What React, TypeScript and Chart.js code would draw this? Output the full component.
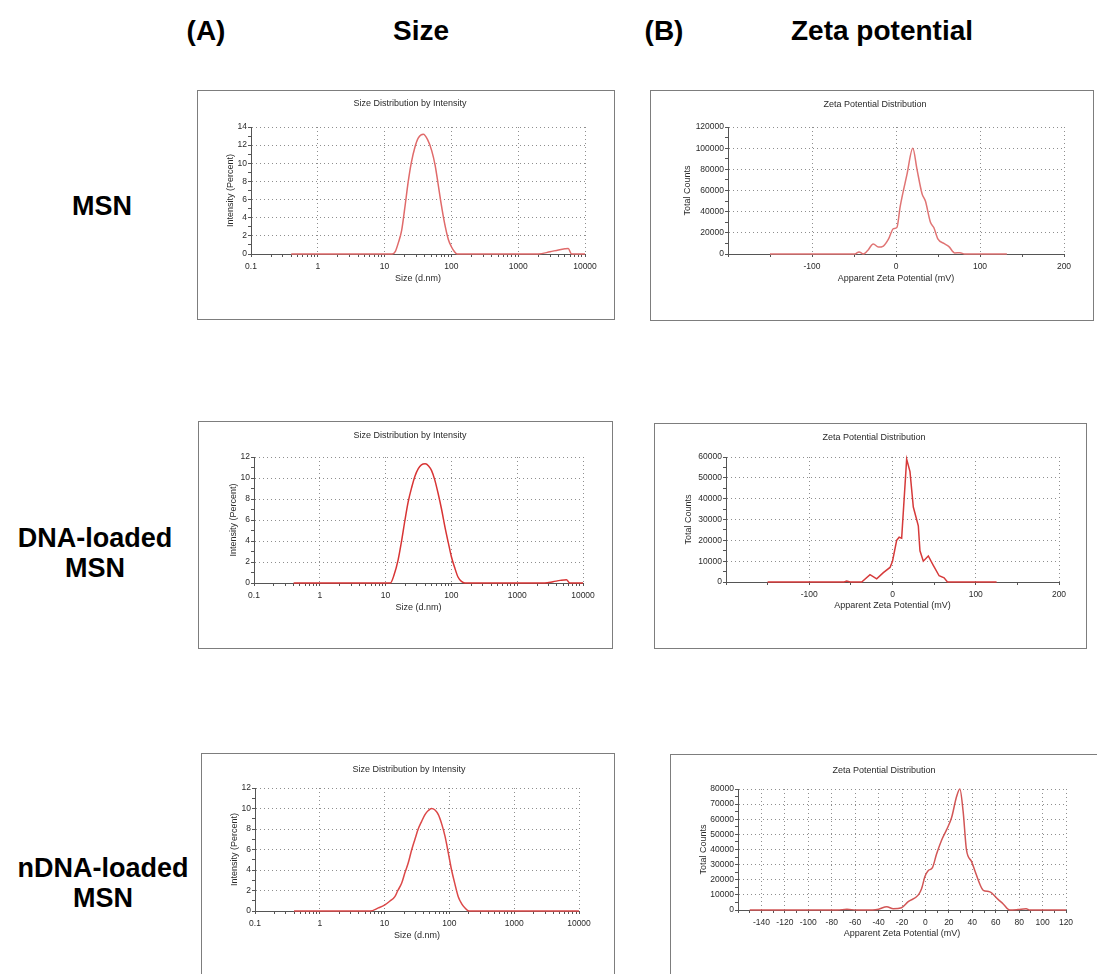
import React, { useEffect, useRef } from 'react';
import { Chart, registerables } from 'chart.js';
Chart.register(...registerables);

const FONT = '"Liberation Sans", Arial, Helvetica, sans-serif';

// ---------- Size distribution data (x: size in d.nm, y: intensity %) ----------
const msnSizeX = [0.4, 13, 14.5, 16, 18, 20, 22.6, 25, 28.5, 32, 38, 44, 50.7, 57, 63, 70, 79, 90, 100, 110, 122, 2000, 3000, 4000, 5000, 5600, 6300, 10000];
const msnSizeY = [0, 0, 0.3, 1.2, 2.6, 5, 8, 10, 11.8, 12.8, 13.2, 12.6, 11.4, 9.8, 7.8, 5.6, 3.4, 1.6, 0.8, 0.3, 0, 0, 0.25, 0.45, 0.58, 0.62, 0, 0];

const dnaSizeX = [0.4, 11.8, 13.5, 15.5, 17.5, 19.7, 22, 24.9, 28, 31.4, 35, 40, 45, 50, 56, 63, 71, 80, 90, 100, 113, 126, 142, 160, 2630, 3500, 4500, 5600, 6300, 10000];
const dnaSizeY = [0, 0, 0.8, 2.2, 4, 6, 7.7, 9.1, 10.2, 10.9, 11.25, 11.35, 11.15, 10.7, 9.8, 8.5, 7, 5.3, 3.8, 2.5, 1.4, 0.57, 0.15, 0, 0, 0.12, 0.25, 0.32, 0, 0];

const ndnaSizeX = [0.4, 6, 8, 10.1, 12, 14.4, 16, 18.3, 20.5, 23.2, 26, 29.4, 33, 37.3, 42, 47.3, 53, 60, 67.5, 76, 85.5, 96, 108, 122, 137, 155, 174, 200, 10000];
const ndnaSizeY = [0, 0, 0.3, 0.6, 0.95, 1.4, 2, 2.7, 3.7, 4.7, 5.9, 7.0, 8, 8.75, 9.4, 9.8, 10, 9.85, 9.4, 8.5, 7.3, 5.7, 4.0, 2.6, 1.4, 0.7, 0.3, 0, 0];

// ---------- Zeta potential data (x: mV, y: total counts) ----------
const msnZetaX = [-150, -55, -49, -44, -39, -34, -27, -21, -15, -9, -3, 1, 5, 13, 20, 25, 31, 35, 41, 45, 50, 57, 63, 70, 76, 82, 132];
const msnZetaY = [0, 0, 0, 2000, 0, 3000, 9500, 6500, 7500, 14000, 24000, 25000, 45000, 75000, 100000, 80000, 57000, 50000, 30000, 25000, 14000, 10000, 7000, 1000, 1200, 0, 0];

const dnaZetaX = [-150, -58, -55, -51, -37, -27, -19, -11, -3, 0, 5, 8, 11, 17, 21, 25, 31, 33, 37, 43, 49, 56, 62, 66, 125];
const dnaZetaY = [0, 0, 500, 0, 0, 3500, 1500, 4500, 7000, 10000, 20000, 21500, 21000, 59000, 53000, 36000, 27000, 15000, 10000, 12500, 8000, 3000, 2000, 0, 0];

const ndnaZetaX = [-150, -75, -67, -59, -45, -40, -33, -27.5, -20.4, -14.7, -6, -3.3, -0.5, 2.3, 6, 9.5, 13.7, 18, 22.3, 26.6, 29.4, 32.2, 35, 39.4, 42.2, 46.5, 49.4, 55, 62, 66.4, 72, 79, 86, 89, 120];
const ndnaZetaY = [0, 0, 500, 0, 0, 500, 2200, 800, 1500, 5500, 10000, 14000, 22000, 26000, 28000, 37000, 46000, 53000, 61000, 75000, 80000, 65000, 40000, 32000, 26000, 17000, 13000, 12000, 7000, 4000, 0, 300, 800, 0, 0];

// ---------- Tick values and labels ----------
const sizeMajorTicks = [0.1, 1, 10, 100, 1000, 10000];
const sizeMinorFactors = [2, 3, 4, 5, 6, 7, 8, 9];
const sizeAllTicks = sizeMajorTicks.flatMap((d, i) =>
  i < sizeMajorTicks.length - 1 ? [d, ...sizeMinorFactors.map((k) => k * d)] : [d]
);

const sizeY14Ticks = [0, 1, 2, 3, 4, 5, 6, 7, 8, 9, 10, 11, 12, 13, 14];
const sizeY14Labels = [0, 2, 4, 6, 8, 10, 12, 14];
const sizeY12Ticks = [0, 1, 2, 3, 4, 5, 6, 7, 8, 9, 10, 11, 12];
const sizeY12Labels = [0, 2, 4, 6, 8, 10, 12];

const zetaWideTicks = [-200, -150, -100, -50, 0, 50, 100, 150, 200];
const zetaWideLabels = [-100, 0, 100, 200];
const zetaNarrowTicks = [-160, -150, -140, -130, -120, -110, -100, -90, -80, -70, -60, -50, -40, -30, -20, -10, 0, 10, 20, 30, 40, 50, 60, 70, 80, 90, 100, 110, 120];
const zetaNarrowLabels = [-140, -120, -100, -80, -60, -40, -20, 0, 20, 40, 60, 80, 100, 120];

const count120Ticks = [0, 10000, 20000, 30000, 40000, 50000, 60000, 70000, 80000, 90000, 100000, 110000, 120000];
const count120Labels = [0, 20000, 40000, 60000, 80000, 100000, 120000];
const count60Ticks = [0, 5000, 10000, 15000, 20000, 25000, 30000, 35000, 40000, 45000, 50000, 55000, 60000];
const count60Labels = [0, 10000, 20000, 30000, 40000, 50000, 60000];
const count80Ticks = [0, 5000, 10000, 15000, 20000, 25000, 30000, 35000, 40000, 45000, 50000, 55000, 60000, 65000, 70000, 75000, 80000];
const count80Labels = [0, 10000, 20000, 30000, 40000, 50000, 60000, 70000, 80000];

type Panel = {
  box: { x: number; y: number; w: number; h: number };
  plot: { l: number; t: number; r: number; b: number };
  yAxisW: number;
  xAxisH: number;
  title: string;
  titleAt: [number, number];
  xType: 'linear' | 'logarithmic';
  xMin: number; xMax: number; xTicks: number[]; xLabels: number[];
  yMin: number; yMax: number; yTicks: number[]; yLabels: number[];
  xTitle: string; yTitle: string;
  xs: number[]; ys: number[];
  color: string;
  monotone: boolean;
};

const SIZE_TITLE = 'Size Distribution by Intensity';
const ZETA_TITLE = 'Zeta Potential Distribution';

const panels: Panel[] = [
  {
    box: { x: 197, y: 90, w: 418, h: 230 }, plot: { l: 251, t: 127, r: 585, b: 254 },
    yAxisW: 26, xAxisH: 30, title: SIZE_TITLE, titleAt: [410, 103],
    xType: 'logarithmic', xMin: 0.1, xMax: 10000, xTicks: sizeAllTicks, xLabels: sizeMajorTicks,
    yMin: 0, yMax: 14, yTicks: sizeY14Ticks, yLabels: sizeY14Labels,
    xTitle: 'Size (d.nm)', yTitle: 'Intensity (Percent)', xs: msnSizeX, ys: msnSizeY,
    color: '#e06a6a', monotone: true,
  },
  {
    box: { x: 650, y: 90, w: 444, h: 231 }, plot: { l: 728, t: 127, r: 1064, b: 254 },
    yAxisW: 46, xAxisH: 30, title: ZETA_TITLE, titleAt: [875, 104],
    xType: 'linear', xMin: -200, xMax: 200, xTicks: zetaWideTicks, xLabels: zetaWideLabels,
    yMin: 0, yMax: 120000, yTicks: count120Ticks, yLabels: count120Labels,
    xTitle: 'Apparent Zeta Potential (mV)', yTitle: 'Total Counts', xs: msnZetaX, ys: msnZetaY,
    color: '#e07474', monotone: true,
  },
  {
    box: { x: 198, y: 421, w: 415, h: 228 }, plot: { l: 254, t: 457, r: 583, b: 583 },
    yAxisW: 26, xAxisH: 29.5, title: SIZE_TITLE, titleAt: [410, 435],
    xType: 'logarithmic', xMin: 0.1, xMax: 10000, xTicks: sizeAllTicks, xLabels: sizeMajorTicks,
    yMin: 0, yMax: 12, yTicks: sizeY12Ticks, yLabels: sizeY12Labels,
    xTitle: 'Size (d.nm)', yTitle: 'Intensity (Percent)', xs: dnaSizeX, ys: dnaSizeY,
    color: '#d83434', monotone: true,
  },
  {
    box: { x: 654, y: 423, w: 433, h: 226 }, plot: { l: 726, t: 457, r: 1059, b: 582 },
    yAxisW: 42.4, xAxisH: 29.4, title: ZETA_TITLE, titleAt: [874, 437],
    xType: 'linear', xMin: -200, xMax: 200, xTicks: zetaWideTicks, xLabels: zetaWideLabels,
    yMin: 0, yMax: 60000, yTicks: count60Ticks, yLabels: count60Labels,
    xTitle: 'Apparent Zeta Potential (mV)', yTitle: 'Total Counts', xs: dnaZetaX, ys: dnaZetaY,
    color: '#d63a3a', monotone: false,
  },
  {
    box: { x: 201, y: 753, w: 414, h: 230 }, plot: { l: 255, t: 788, r: 579, b: 911 },
    yAxisW: 25.4, xAxisH: 30.4, title: SIZE_TITLE, titleAt: [409, 769],
    xType: 'logarithmic', xMin: 0.1, xMax: 10000, xTicks: sizeAllTicks, xLabels: sizeMajorTicks,
    yMin: 0, yMax: 12, yTicks: sizeY12Ticks, yLabels: sizeY12Labels,
    xTitle: 'Size (d.nm)', yTitle: 'Intensity (Percent)', xs: ndnaSizeX, ys: ndnaSizeY,
    color: '#dc4848', monotone: true,
  },
  {
    box: { x: 670, y: 754, w: 430, h: 230 }, plot: { l: 738, t: 789, r: 1066, b: 910 },
    yAxisW: 39.4, xAxisH: 29.4, title: ZETA_TITLE, titleAt: [884, 770],
    xType: 'linear', xMin: -160, xMax: 120, xTicks: zetaNarrowTicks, xLabels: zetaNarrowLabels,
    yMin: 0, yMax: 80000, yTicks: count80Ticks, yLabels: count80Labels,
    xTitle: 'Apparent Zeta Potential (mV)', yTitle: 'Total Counts', xs: ndnaZetaX, ys: ndnaZetaY,
    color: '#d25656', monotone: true,
  },
];

const GRID = '#8e8e8e';
const AXIS = '#555555';
const TEXT = '#2a2a2a';

function PanelChart({ p }: { p: Panel }) {
  const ref = useRef<HTMLCanvasElement | null>(null);
  useEffect(() => {
    if (!ref.current) return;
    const pad = {
      left: p.plot.l - p.box.x - p.yAxisW,
      top: p.plot.t - p.box.y,
      right: p.box.x + p.box.w - p.plot.r,
      bottom: p.box.y + p.box.h - p.plot.b - p.xAxisH,
    };
    const has = (arr: number[], v: number) => arr.some((a) => Math.abs(a - v) < 1e-9 * Math.max(1, Math.abs(a)));
    const chart = new Chart(ref.current, {
      type: 'line',
      data: {
        datasets: [
          {
            data: p.xs.map((x, i) => ({ x, y: p.ys[i] })),
            borderColor: p.color,
            borderWidth: 1.5,
            pointRadius: 0,
            fill: false,
            cubicInterpolationMode: p.monotone ? 'monotone' : 'default',
            tension: p.monotone ? 0.4 : 0,
            clip: 4,
          } as any,
        ],
      },
      options: {
        responsive: false,
        animation: false,
        events: [],
        layout: { padding: pad },
        plugins: { legend: { display: false }, tooltip: { enabled: false }, title: { display: false } },
        scales: {
          x: {
            type: p.xType,
            min: p.xMin,
            max: p.xMax,
            afterBuildTicks: (s: any) => { s.ticks = p.xTicks.map((v) => ({ value: v })); },
            afterFit: (s: any) => { s.height = p.xAxisH; },
            ticks: {
              autoSkip: false, maxRotation: 0, minRotation: 0, padding: 5, color: TEXT,
              font: { family: FONT, size: 8.5 },
              callback: (v: any) => (has(p.xLabels, Number(v)) ? String(v) : ''),
            },
            grid: {
              color: (ctx: any) => {
                const v = ctx.tick ? ctx.tick.value : NaN;
                return has(p.xLabels, v) && Math.abs(v - p.xMin) > 1e-9 ? GRID : 'rgba(0,0,0,0)';
              },
              lineWidth: 1, tickColor: AXIS, tickLength: 3, drawTicks: true,
            },
            border: { display: true, color: AXIS, width: 1, dash: [1, 3] },
            title: { display: true, text: p.xTitle, color: TEXT, font: { family: FONT, size: 9 }, padding: 0 },
          } as any,
          y: {
            type: 'linear',
            min: p.yMin,
            max: p.yMax,
            afterBuildTicks: (s: any) => { s.ticks = p.yTicks.map((v) => ({ value: v })); },
            afterFit: (s: any) => { s.width = p.yAxisW; },
            ticks: {
              autoSkip: false, padding: 1, color: TEXT,
              font: { family: FONT, size: 8.5 },
              callback: (v: any) => (has(p.yLabels, Number(v)) ? String(v) : ''),
            },
            grid: {
              color: (ctx: any) => {
                const v = ctx.tick ? ctx.tick.value : NaN;
                return has(p.yLabels, v) && v !== p.yMin ? GRID : 'rgba(0,0,0,0)';
              },
              lineWidth: 1, tickColor: AXIS, tickLength: 3, drawTicks: true,
            },
            border: { display: true, color: AXIS, width: 1, dash: [1, 3] },
            title: { display: true, text: p.yTitle, color: TEXT, font: { family: FONT, size: 9 }, padding: 0 },
          } as any,
        },
      },
    });
    return () => chart.destroy();
  }, [p]);

  return (
    <>
      <canvas
        ref={ref}
        width={p.box.w}
        height={p.box.h}
        style={{ position: 'absolute', left: p.box.x, top: p.box.y, width: p.box.w, height: p.box.h }}
      />
      <div
        style={{
          position: 'absolute', left: p.box.x, top: p.box.y, width: p.box.w, height: p.box.h,
          border: '1px solid #7d7d7d', boxSizing: 'border-box', pointerEvents: 'none',
        }}
      />
      <div
        style={{
          position: 'absolute', left: p.titleAt[0], top: p.titleAt[1], transform: 'translate(-50%, -50%)',
          font: `9px ${FONT}`, color: TEXT, whiteSpace: 'nowrap',
        }}
      >
        {p.title}
      </div>
    </>
  );
}

const headers: { text: string; x: number; y: number }[] = [
  { text: '(A)', x: 206, y: 31 },
  { text: 'Size', x: 421, y: 31 },
  { text: '(B)', x: 664, y: 31 },
  { text: 'Zeta potential', x: 882, y: 31 },
];

const rowLabels: { lines: string[]; x: number; y: number }[] = [
  { lines: ['MSN'], x: 102, y: 206 },
  { lines: ['DNA-loaded', 'MSN'], x: 95, y: 553 },
  { lines: ['nDNA-loaded', 'MSN'], x: 103, y: 883 },
];

export default function App() {
  useEffect(() => {
    document.body.style.margin = '0';
  }, []);
  return (
    <div style={{ position: 'fixed', left: 0, top: 0, width: 1097, height: 974, overflow: 'hidden', background: '#fff' }}>
      {headers.map((h) => (
        <div
          key={h.text}
          style={{
            position: 'absolute', left: h.x, top: h.y, transform: 'translate(-50%, -50%)',
            font: `bold 28px ${FONT}`, color: '#000', whiteSpace: 'nowrap',
          }}
        >
          {h.text}
        </div>
      ))}
      {rowLabels.map((r) => (
        <div
          key={r.lines.join(' ')}
          style={{
            position: 'absolute', left: r.x, top: r.y, transform: 'translate(-50%, -50%)',
            font: `bold 27px ${FONT}`, lineHeight: '30px', color: '#000', textAlign: 'center', whiteSpace: 'nowrap',
          }}
        >
          {r.lines.map((l, i) => (
            <div key={i}>{l}</div>
          ))}
        </div>
      ))}
      {panels.map((p, i) => (
        <PanelChart key={i} p={p} />
      ))}
    </div>
  );
}
